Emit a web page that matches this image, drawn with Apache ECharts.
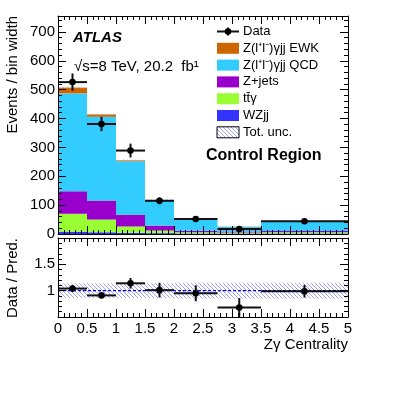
<!DOCTYPE html>
<html>
<head>
<meta charset="utf-8">
<script src="https://cdn.jsdelivr.net/npm/echarts@6/dist/echarts.min.js"></script>
<style>
  html, body { margin: 0; padding: 0; background: #fff; }
  #chart { width: 407px; height: 394px; }
</style>
</head>
<body>
<div id="chart"></div>
<script>
// bins in Z-gamma centrality
const binEdges = [0, 0.5, 1, 1.5, 2, 2.75, 3.5, 5];
// stacked predictions, events / bin width
const wzjj    = [8, 6, 4, 3, 2, 2, 2];
const ttgamma = [62, 44, 22, 9, 4, 3, 4];
const zjets   = [78, 66, 41, 17, 5, 4, 4];
const qcd     = [339, 290, 185, 88, 40, 15, 34];
const ewk     = [20, 8, 3, 1, 1, 1, 1];
const predUnc = [3, 3, 3, 3, 2, 2, 2];
// data
const dataVals = [526, 381, 289, 115, 52, 17, 44];
const dataErr  = [30, 25, 24, 12, 7, 4, 5];
// ratio panel
const ratioVals = [1.04, 0.91, 1.14, 1.01, 0.95, 0.68, 0.99];
const ratioErr  = [0.06, 0.05, 0.10, 0.14, 0.15, 0.18, 0.12];
const ratioUnc  = [0.14, 0.14, 0.14, 0.14, 0.15, 0.15, 0.15];

const FONT = '"Liberation Sans", Arial, Helvetica, sans-serif';

function hatch(color, size) {
  const c = document.createElement('canvas');
  c.width = size; c.height = size;
  const g = c.getContext('2d');
  g.strokeStyle = color;
  g.lineWidth = 1;
  g.beginPath();
  for (let k = -size; k <= size; k += size) {
    g.moveTo(k, 0);
    g.lineTo(k + size, size);
  }
  g.stroke();
  return c;
}
const hatchFill = { image: hatch('rgba(110,110,240,0.65)', 4), repeat: 'repeat' };
const hatchLight = { image: hatch('rgba(150,160,200,0.5)', 4), repeat: 'repeat' };

const stackDefs = [
  { name: 'WZjj', vals: wzjj, color: '#3333ff' },
  { name: 'ttgamma', vals: ttgamma, color: '#99ff33' },
  { name: 'Z+jets', vals: zjets, color: '#9900cc' },
  { name: 'QCD', vals: qcd, color: '#33ccff' },
  { name: 'EWK', vals: ewk, color: '#cc6600' }
];

// cumulative stack
const base = binEdges.slice(1).map(() => 0);
const stackSeries = stackDefs.map(d => {
  const rows = d.vals.map((v, i) => {
    const lo = base[i];
    base[i] += v;
    return [binEdges[i], binEdges[i + 1], lo, base[i]];
  });
  return {
    type: 'custom', name: d.name, xAxisIndex: 0, yAxisIndex: 0,
    itemStyle: { color: d.color }, z: 2, clip: true,
    encode: { x: [0, 1], y: [2, 3] },
    renderItem: rectItem, data: rows
  };
});
const total = base.slice();

function rectItem(params, api) {
  const p0 = api.coord([api.value(0), api.value(3)]);
  const p1 = api.coord([api.value(1), api.value(2)]);
  return {
    type: 'rect',
    shape: { x: p0[0], y: p0[1], width: p1[0] - p0[0], height: p1[1] - p0[1] },
    style: { fill: api.visual('color') }
  };
}

function bandRenderer(fill) {
  return function (params, api) {
    const p0 = api.coord([api.value(0), api.value(3)]);
    const p1 = api.coord([api.value(1), api.value(2)]);
    return {
      type: 'rect',
      shape: { x: p0[0], y: p0[1], width: p1[0] - p0[0], height: p1[1] - p0[1] },
      style: { fill: fill }
    };
  };
}

function pointItem(params, api) {
  const xc = api.value(0), y = api.value(1), x0 = api.value(2), x1 = api.value(3), e = api.value(4);
  const a = api.coord([x0, y]), b = api.coord([x1, y]);
  const up = api.coord([xc, y + e]), dn = api.coord([xc, y - e]);
  const c = api.coord([xc, y]);
  const ls = { stroke: '#111', lineWidth: 2 };
  return {
    type: 'group',
    children: [
      { type: 'line', shape: { x1: a[0], y1: a[1], x2: b[0], y2: b[1] }, style: ls },
      { type: 'line', shape: { x1: up[0], y1: up[1], x2: dn[0], y2: dn[1] }, style: ls },
      { type: 'circle', shape: { cx: c[0], cy: c[1], r: 3.3 }, style: { fill: '#000' } }
    ]
  };
}

const topBand = total.map((t, i) => [binEdges[i], binEdges[i + 1], t - predUnc[i], t + predUnc[i]]);
const ratioBand = ratioUnc.map((u, i) => [binEdges[i], binEdges[i + 1], 1 - u, 1 + u]);
const dataPts = dataVals.map((v, i) => [(binEdges[i] + binEdges[i + 1]) / 2, v, binEdges[i], binEdges[i + 1], dataErr[i]]);
const ratioPts = ratioVals.map((v, i) => [(binEdges[i] + binEdges[i + 1]) / 2, v, binEdges[i], binEdges[i + 1], ratioErr[i]]);

function xAx(grid, pos, labels) {
  return {
    type: 'value', gridIndex: grid, position: pos, min: 0, max: 5, interval: 0.5, z: 10,
    axisLine: { show: true, onZero: false, lineStyle: { color: '#000', width: 1 } },
    axisTick: { show: true, inside: true, length: 8, lineStyle: { color: '#000' } },
    minorTick: { show: true, splitNumber: 5, length: 4, lineStyle: { color: '#000' } },
    splitLine: { show: false },
    axisLabel: { show: labels, margin: 4, color: '#000', fontSize: 15, fontFamily: FONT }
  };
}
function yAx(grid, pos, labels, min, max, interval, fmt) {
  return {
    type: 'value', gridIndex: grid, position: pos, min: min, max: max, interval: interval, z: 10,
    axisLine: { show: true, onZero: false, lineStyle: { color: '#000', width: 1 } },
    axisTick: { show: true, inside: true, length: 8, lineStyle: { color: '#000' } },
    minorTick: { show: true, splitNumber: 5, length: 4, lineStyle: { color: '#000' } },
    splitLine: { show: false },
    axisLabel: { show: labels, margin: 3, color: '#000', fontSize: 15, fontFamily: FONT,
      showMaxLabel: false, formatter: fmt }
  };
}

// legend rows
const legendRows = [
  { label: 'Z(l⁺l⁻)γjj EWK', color: '#cc6600' },
  { label: 'Z(l⁺l⁻)γjj QCD', color: '#33ccff' },
  { label: 'Z+jets', color: '#9900cc' },
  { label: 'tt̄γ', color: '#99ff33' },
  { label: 'WZjj', color: '#3333ff' }
];
const legX = 217, legTextX = 243, legY0 = 31.5, legDy = 16.8;
const graphics = [];
// data entry
graphics.push(
  { type: 'line', shape: { x1: legX, y1: legY0, x2: legX + 22, y2: legY0 }, style: { stroke: '#111', lineWidth: 2 } },
  { type: 'line', shape: { x1: legX + 11, y1: legY0 - 4, x2: legX + 11, y2: legY0 + 4 }, style: { stroke: '#111', lineWidth: 2 } },
  { type: 'circle', shape: { cx: legX + 11, cy: legY0, r: 3.3 }, style: { fill: '#000' } },
  { type: 'text', x: legTextX, y: legY0, style: { text: 'Data', font: '13px ' + FONT, fill: '#000', verticalAlign: 'middle' } }
);
legendRows.forEach((r, i) => {
  const y = legY0 + legDy * (i + 1);
  graphics.push(
    { type: 'rect', shape: { x: legX, y: y - 5.5, width: 22, height: 11 }, style: { fill: r.color } },
    { type: 'text', x: legTextX, y: y, style: { text: r.label, font: '13px ' + FONT, fill: '#000', verticalAlign: 'middle' } }
  );
});
const yU = legY0 + legDy * 6;
graphics.push(
  { type: 'rect', shape: { x: legX, y: yU - 5.5, width: 22, height: 11 }, style: { fill: hatchFill, stroke: '#000', lineWidth: 1 } },
  { type: 'text', x: legTextX, y: yU, style: { text: 'Tot. unc.', font: '13px ' + FONT, fill: '#000', verticalAlign: 'middle' } },
  { type: 'text', x: 206, y: 156, style: { text: 'Control Region', font: 'bold 16px ' + FONT, fill: '#000', verticalAlign: 'middle' } },
  { type: 'text', x: 73, y: 38, style: { text: 'ATLAS', font: 'italic bold 15px ' + FONT, fill: '#000', verticalAlign: 'middle' } },
  { type: 'text', x: 74, y: 67, style: { text: '√s=8 TeV, 20.2  fb¹', font: '15px ' + FONT, fill: '#000', verticalAlign: 'middle' } },
  { type: 'text', x: 348, y: 345, style: { text: 'Zγ Centrality', font: '15px ' + FONT, fill: '#000', align: 'right', verticalAlign: 'middle' } },
  { type: 'text', x: 13, y: 16, rotation: Math.PI / 2, style: { text: 'Events / bin width', font: '15px ' + FONT, fill: '#000', align: 'right', verticalAlign: 'middle' } },
  { type: 'text', x: 13, y: 238, rotation: Math.PI / 2, style: { text: 'Data / Pred.', font: '15px ' + FONT, fill: '#000', align: 'right', verticalAlign: 'middle' } }
);

const chart = echarts.init(document.getElementById('chart'), null, { renderer: 'canvas' });
const option = {
  backgroundColor: '#fff',
  animation: false,
  grid: [
    { left: 58, width: 290, top: 16, height: 218 },
    { left: 58, width: 290, top: 238, height: 79 }
  ],
  xAxis: [
    xAx(0, 'bottom', false),
    xAx(1, 'bottom', true),
    xAx(0, 'top', false),
    xAx(1, 'top', false)
  ],
  yAxis: [
    yAx(0, 'left', true, 0, 755, 100),
    yAx(1, 'left', true, 0.5, 2, 0.5, v => (v === 1 || v === 1.5) ? String(v) : ''),
    yAx(0, 'right', false, 0, 755, 100),
    yAx(1, 'right', false, 0.5, 2, 0.5)
  ],
  graphic: graphics,
  series: stackSeries.concat([
    {
      type: 'custom', name: 'unc', xAxisIndex: 0, yAxisIndex: 0, z: 3, clip: true,
      encode: { x: [0, 1], y: [2, 3] }, renderItem: bandRenderer(hatchLight), data: topBand
    },
    {
      type: 'custom', name: 'Data', xAxisIndex: 0, yAxisIndex: 0, z: 4, clip: true,
      encode: { x: 0, y: 1 }, renderItem: pointItem, data: dataPts
    },
    {
      type: 'custom', name: 'ratio unc', xAxisIndex: 1, yAxisIndex: 1, z: 2, clip: true,
      encode: { x: [0, 1], y: [2, 3] }, renderItem: bandRenderer(hatchFill), data: ratioBand
    },
    {
      type: 'line', name: 'one', xAxisIndex: 1, yAxisIndex: 1, z: 3, symbol: 'none',
      lineStyle: { color: '#0000ff', width: 1.2, type: [3, 2] },
      data: [[binEdges[0], 1], [binEdges[binEdges.length - 1], 1]]
    },
    {
      type: 'custom', name: 'ratio', xAxisIndex: 1, yAxisIndex: 1, z: 4, clip: true,
      encode: { x: 0, y: 1 }, renderItem: pointItem, data: ratioPts
    }
  ])
};
chart.setOption(option);
</script>
</body>
</html>
